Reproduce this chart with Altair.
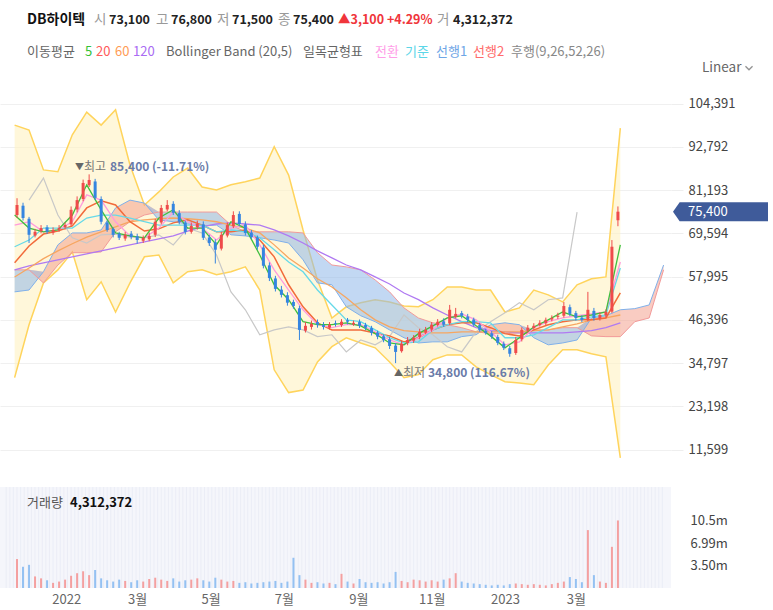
import altair as alt
import pandas as pd

FONT = "Noto Sans CJK KR"
RED = "#ef4b4b"
BLUE = "#3585e0"

# ---------- candles (thousand KRW), one candle every 5 calendar days from 2021-11-21 ----------
opens = [74.5, 77.0, 73.5, 69.0, 70.2, 71.2, 69.8, 70.6, 71.2, 72.0,
         76.0, 78.8, 82.5, 83.5, 78.8, 72.5, 70.8, 69.5, 68.2, 69.5,
         68.8, 67.6, 68.0, 69.2, 72.5, 76.0, 77.5, 75.0, 72.5, 70.0,
         71.2, 72.0, 68.5, 67.2, 65.5, 69.0, 71.5, 74.8, 72.0, 69.8,
         68.5, 65.8, 61.0, 57.5, 54.5, 53.0, 51.2, 49.5, 43.5, 44.5,
         45.8, 45.0, 44.3, 45.5, 45.0, 46.3, 45.2, 45.8, 45.0, 44.2,
         43.0, 42.0, 41.2, 39.5, 38.0, 40.2, 40.8, 41.8, 43.0, 43.8,
         45.0, 46.0, 45.5, 47.2, 48.2, 47.3, 46.5, 45.0, 43.5, 42.8,
         41.8, 40.0, 38.8, 37.5, 41.2, 43.5, 44.2, 45.0, 45.5, 46.5,
         47.2, 47.5, 49.8, 48.2, 47.0, 46.5, 48.8, 46.8, 47.6, 48.6,
         73.1]
highs = [79.0, 77.8, 74.0, 70.8, 71.8, 71.8, 71.2, 71.8, 72.5, 76.8,
         79.5, 84.0, 85.4, 84.2, 79.5, 73.0, 71.2, 70.0, 70.0, 70.2,
         69.5, 69.0, 69.8, 73.5, 77.2, 78.5, 78.2, 75.8, 73.0, 72.5,
         73.0, 72.8, 69.2, 68.0, 70.0, 72.5, 75.5, 75.5, 72.8, 70.5,
         69.0, 66.5, 61.8, 58.2, 55.5, 53.8, 51.8, 50.2, 45.8, 46.2,
         46.5, 45.8, 45.8, 46.2, 46.6, 46.9, 46.2, 46.5, 45.6, 44.8,
         43.5, 42.5, 41.8, 40.2, 40.8, 41.8, 42.3, 44.0, 44.5, 45.8,
         46.6, 46.8, 50.4, 49.6, 48.8, 48.0, 47.0, 45.6, 44.0, 43.4,
         42.4, 40.6, 39.4, 41.8, 44.4, 45.0, 45.5, 46.3, 47.0, 47.6,
         48.3, 51.2, 50.5, 48.8, 47.6, 53.9, 49.6, 48.4, 49.2, 67.8,
         76.8]
lows = [73.8, 73.0, 67.0, 68.5, 69.6, 69.4, 69.2, 70.0, 70.6, 71.4,
        75.2, 78.2, 82.0, 78.5, 72.0, 70.0, 68.5, 67.8, 67.6, 68.0,
        66.8, 67.0, 67.5, 68.6, 72.0, 75.5, 74.5, 72.0, 69.3, 69.5,
        70.6, 67.8, 66.2, 61.5, 65.0, 68.5, 71.0, 71.5, 69.0, 68.0,
        65.2, 60.2, 56.8, 54.0, 52.4, 50.2, 49.4, 41.0, 43.0, 43.8,
        44.3, 43.8, 43.8, 44.6, 44.5, 45.2, 44.8, 44.2, 43.6, 42.2,
        41.2, 40.4, 38.6, 34.8, 37.6, 39.6, 40.2, 41.2, 42.6, 43.2,
        44.6, 44.5, 45.0, 46.8, 46.8, 45.8, 44.6, 43.2, 42.4, 41.3,
        39.6, 38.3, 36.5, 37.0, 40.6, 43.0, 43.8, 44.6, 45.0, 46.0,
        46.6, 47.0, 47.4, 46.2, 45.8, 46.0, 46.2, 46.2, 47.0, 48.2,
        71.5]
closes = [77.2, 73.7, 69.2, 70.0, 71.0, 70.0, 70.5, 71.0, 71.8, 75.9,
          78.5, 83.1, 83.9, 79.1, 72.7, 70.5, 69.2, 68.4, 69.2, 68.6,
          67.8, 68.4, 68.9, 72.7, 76.4, 77.2, 75.1, 72.7, 70.0, 71.6,
          72.1, 68.4, 67.0, 65.2, 69.2, 71.8, 74.5, 72.1, 69.7, 68.6,
          66.0, 60.9, 57.6, 54.7, 53.1, 51.0, 50.1, 43.7, 44.8, 45.3,
          45.1, 44.5, 45.1, 45.3, 45.9, 45.9, 45.6, 44.8, 44.3, 42.9,
          41.9, 41.0, 39.4, 37.8, 40.0, 41.0, 41.6, 43.2, 43.7, 45.1,
          45.9, 45.1, 49.1, 48.0, 47.5, 46.4, 45.1, 43.7, 42.9, 41.9,
          40.2, 38.9, 37.3, 41.0, 43.7, 44.3, 44.8, 45.6, 46.4, 46.9,
          47.5, 50.1, 48.0, 46.9, 46.4, 49.1, 46.9, 47.7, 48.5, 66.0,
          75.4]
volumes_m = [4.5, 3.3, 3.6, 1.8, 1.5, 1.2, 0.8, 1.0, 1.3, 1.9,
             2.3, 2.6, 2.0, 2.8, 1.5, 1.2, 1.0, 1.3, 1.1, 0.9,
             1.2, 1.0, 1.4, 1.6, 1.3, 1.1, 1.5, 1.0, 1.2, 1.3,
             1.5, 1.2, 1.0, 1.6, 1.3, 1.0, 1.1, 0.8, 0.9, 0.7,
             0.8, 0.9, 1.0, 1.1, 0.8, 1.0, 4.7, 2.0, 1.3, 0.8,
             0.9, 0.7, 0.8, 0.6, 2.2, 1.0, 0.7, 1.4, 0.9, 0.8,
             0.9, 0.7, 0.9, 2.5, 1.1, 0.9, 1.3, 1.2, 1.0, 1.2,
             1.0, 1.3, 1.5, 2.3, 1.0, 0.8, 0.7, 0.6, 0.5, 0.4,
             0.5, 0.4, 0.6, 0.7, 0.6, 0.5, 0.6, 0.5, 0.4, 0.6,
             0.8, 1.0, 1.7, 1.4, 0.9, 9.0, 2.0, 1.0, 0.8, 6.4,
             10.5]

# ---------- indicator lines (thousand KRW), one point every 12 days from 2021-11-19 ----------
ma5 = [74.5, 71.0, 70.0, 70.5, 74.5, 82.6, 75.9, 69.7, 68.9, 68.4,
       73.7, 75.9, 71.0, 71.0, 66.5, 72.7, 71.0, 63.8, 55.8, 51.8,
       45.9, 45.1, 45.1, 45.6, 44.8, 42.7, 40.2, 39.7, 42.7, 44.8,
       46.9, 47.5, 44.8, 42.1, 38.9, 41.6, 44.5, 46.4, 48.5, 47.2,
       47.7, 48.5, 66.5]
ma20 = [61.7, 66.2, 69.4, 70.2, 71.6, 76.4, 78.3, 77.2, 72.7, 70.2,
        70.8, 72.4, 73.2, 71.8, 70.0, 70.0, 70.5, 67.8, 63.3, 55.8,
        49.9, 45.6, 43.7, 43.7, 43.7, 42.9, 42.1, 40.5, 41.6, 43.7,
        45.1, 45.6, 45.6, 44.3, 42.7, 42.1, 43.7, 45.1, 45.9, 46.4,
        46.4, 46.9, 53.6]
ma60 = [57.9, 60.3, 62.8, 64.9, 66.8, 68.6, 70.0, 71.3, 72.7, 73.2,
        73.5, 73.7, 73.5, 73.2, 72.7, 71.8, 71.0, 69.7, 66.5, 63.0,
        60.3, 57.4, 55.2, 52.3, 49.1, 46.4, 44.5, 43.5, 43.2, 42.9,
        42.9, 43.2, 43.2, 43.2, 43.2, 43.2, 43.5, 43.7, 44.5, 45.3,
        46.4, 46.9, 47.7]
ma120 = [59.8, 60.9, 61.7, 62.5, 63.3, 64.1, 64.9, 65.7, 66.5, 67.3,
         68.1, 68.9, 70.2, 71.3, 72.1, 72.4, 72.1, 71.8, 70.5, 68.9,
         67.0, 64.9, 63.0, 61.1, 59.8, 57.9, 56.0, 53.6, 51.8, 49.6,
         47.7, 45.9, 44.3, 43.5, 43.2, 42.9, 42.9, 42.9, 42.9, 43.2,
         43.5, 44.3, 45.6]
bb_upper = [98.6, 97.3, 86.6, 86.1, 96.0, 102.1, 98.6, 102.7, 87.9, 77.2,
            80.7, 84.7, 87.1, 82.0, 81.2, 82.6, 83.4, 84.4, 92.8, 85.2,
            70.5, 57.1, 46.9, 49.9, 51.0, 51.8, 51.2, 50.1, 49.9, 51.8,
            55.2, 55.2, 54.4, 54.4, 48.5, 49.6, 54.4, 53.1, 51.2, 55.8,
            57.4, 57.9, 97.8]
bb_lower = [30.9, 45.1, 56.3, 59.8, 64.6, 51.8, 56.6, 48.5, 56.3, 63.3,
            63.8, 56.3, 59.3, 59.8, 58.5, 59.3, 60.6, 54.4, 33.0, 26.9,
            27.6, 35.1, 39.2, 41.6, 40.2, 38.9, 35.1, 30.9, 31.7, 35.7,
            37.0, 37.0, 33.8, 31.7, 29.8, 29.5, 29.0, 34.3, 38.4, 38.4,
            37.3, 36.5, 9.4]
tenkan = [71.8, 72.7, 70.0, 70.5, 72.7, 79.9, 78.5, 72.7, 68.9, 68.4,
          71.0, 75.3, 72.7, 71.0, 67.8, 71.0, 71.8, 66.5, 59.8, 54.4,
          49.1, 45.1, 44.3, 45.1, 45.1, 43.2, 41.0, 39.7, 41.6, 43.7,
          46.9, 48.0, 46.4, 43.2, 39.7, 40.5, 44.3, 45.9, 46.9, 47.5,
          48.0, 48.5, 61.9]
kijun = [66.0, 67.8, 71.0, 71.0, 71.0, 73.7, 74.5, 74.5, 73.7, 72.7,
         71.8, 71.8, 71.8, 71.8, 70.0, 70.5, 70.0, 68.4, 65.2, 61.9,
         59.3, 54.4, 50.4, 46.4, 45.9, 43.7, 41.6, 40.2, 40.5, 43.7,
         45.1, 45.9, 45.9, 45.6, 41.6, 41.6, 42.4, 44.3, 46.4, 46.4,
         47.2, 47.7, 60.3]
span1 = [53.9, 54.4, 59.3, 66.5, 69.7, 69.7, 70.5, 76.4, 78.5, 77.7,
         73.2, 72.7, 72.1, 71.6, 71.8, 69.2, 68.9, 68.4, 67.8, 67.0,
         62.5, 56.3, 55.8, 49.9, 47.5, 45.9, 43.7, 41.6, 40.2, 40.5,
         40.5, 41.9, 42.4, 45.1, 45.6, 45.1, 41.6, 39.7, 40.2, 41.0,
         46.9, 47.5, 49.1, 49.4, 50.4, 61.1]
span2 = [59.8, 59.8, 56.3, 61.1, 64.4, 64.4, 64.6, 70.0, 72.7, 74.5,
         75.3, 75.3, 75.3, 75.3, 75.3, 71.8, 70.0, 70.0, 70.0, 70.0,
         69.7, 64.4, 61.1, 60.6, 59.8, 57.1, 53.9, 49.6, 46.9, 45.6,
         45.1, 44.3, 43.2, 42.7, 42.7, 42.9, 43.7, 43.7, 44.3, 44.3,
         42.1, 41.9, 41.9, 45.9, 46.9, 59.8]
chikou = [78.5, 84.4, 74.5, 68.4, 67.0, 69.2, 69.4, 68.6, 68.4, 69.2,
          66.5, 71.0, 69.7, 63.8, 53.9, 49.1, 42.4, 43.7, 44.5, 43.7,
          41.9, 42.4, 37.8, 41.0, 39.7, 41.9, 47.7, 44.3, 42.4, 39.2,
          37.8, 43.2, 45.9, 48.3, 51.0, 49.1, 51.8, 52.3, 75.3]

price_ticks = [11599, 23198, 34797, 46396, 57995, 69594, 81193, 92792, 104391]
vol_ticks = [3.5, 6.99, 10.49]
last_close = 75400

# ---------- tables ----------
K = 1000
candle_dates = pd.date_range("2021-11-21", periods=len(closes), freq="5D")
candles = pd.DataFrame({
    "date": candle_dates,
    "open": [v * K for v in opens], "high": [v * K for v in highs],
    "low": [v * K for v in lows], "close": [v * K for v in closes],
    "vol": volumes_m,
})
line_dates = pd.date_range("2021-11-19", periods=len(span1), freq="12D")
n = len(ma5)
lines = pd.DataFrame({
    "date": line_dates[:n],
    "ma5": [v * K for v in ma5], "ma20": [v * K for v in ma20],
    "ma60": [v * K for v in ma60], "ma120": [v * K for v in ma120],
    "bb_up": [v * K for v in bb_upper], "bb_lo": [v * K for v in bb_lower],
    "tenkan": [v * K for v in tenkan], "kijun": [v * K for v in kijun],
})
cloud = pd.DataFrame({"date": line_dates, "s1": [v * K for v in span1], "s2": [v * K for v in span2]})
chik = pd.DataFrame({"date": line_dates[1:1 + len(chikou)], "v": [v * K for v in chikou]})
one = pd.DataFrame({"k": [0]})
stripes = pd.DataFrame({"date": pd.date_range("2021-11-12", "2023-05-14", freq="3D")})

xscale = alt.Scale(domain=[alt.DateTime(year=2021, month=11, date=11),
                           alt.DateTime(year=2023, month=5, date=15)])
yscale = alt.Scale(domain=[4000, 110700], nice=False, zero=False)
X = alt.X("date:T", scale=xscale, axis=None)

yaxis = alt.Axis(values=price_ticks, format=",d", orient="right", title=None, domain=False,
                 tickColor="#eeeeee", tickSize=12, labelPadding=5, gridColor="#f0f0f0",
                 labelFontSize=13, labelColor="#444444", labelFont=FONT)


def Y(f):
    return alt.Y(f, type="quantitative", scale=yscale, axis=yaxis)


def line(df, f, color, w=1.3, op=1.0):
    return alt.Chart(df).mark_line(color=color, strokeWidth=w, opacity=op).encode(x=X, y=Y(f))


def txt(s, x, y, color, size=13, bold=False):
    return alt.Chart(one).mark_text(
        text=s, align="left", baseline="middle", font=FONT, fontSize=size,
        fontWeight="bold" if bold else "normal", color=color
    ).encode(x=alt.value(x), y=alt.value(y))


updown = alt.condition("datum.close >= datum.open", alt.value(RED), alt.value(BLUE))

bb_area = alt.Chart(lines).mark_area(color="#fff2c2", opacity=0.6).encode(
    x=X, y=Y("bb_up"), y2="bb_lo")
cloud_base = alt.Chart(cloud).transform_calculate(hi="max(datum.s1, datum.s2)")
cloud_red = cloud_base.mark_area(color="#f39a86", opacity=0.5).encode(x=X, y=Y("hi"), y2="s2")
cloud_blue = cloud_base.mark_area(color="#8fb8ea", opacity=0.55).encode(x=X, y=Y("hi"), y2="s1")
wick = alt.Chart(candles).mark_rule(strokeWidth=1).encode(x=X, y=Y("low"), y2="high", color=updown)
body = alt.Chart(candles).mark_bar(width=3).encode(x=X, y=Y("open"), y2="close", color=updown)

tag_y = alt.YDatum(last_close, type="quantitative", scale=yscale, axis=yaxis)
tag = alt.Chart(one).mark_point(
    shape="M0,0L0.7,-1L10,-1L10,1L0.7,1Z", size=361, filled=True, opacity=1, color="#3f5b9a"
).encode(x=alt.value(673), y=tag_y)
tag_text = alt.Chart(one).mark_text(
    text="75,400", align="left", baseline="middle", font=FONT, fontSize=13, color="white"
).encode(x=alt.value(688), y=tag_y)

main = alt.layer(
    bb_area,
    line(lines, "bb_up", "#ffd45c", 1.5), line(lines, "bb_lo", "#ffd45c", 1.5),
    cloud_red, cloud_blue,
    line(cloud, "s1", "#7fb0ea", 1), line(cloud, "s2", "#f29a9a", 1),
    line(chik, "v", "#c8c8c8", 1.2),
    line(lines, "ma120", "#b07af2"), line(lines, "ma60", "#f7a660"),
    line(lines, "ma20", "#f26b3b", 1.5), line(lines, "kijun", "#66d9e8"),
    line(lines, "tenkan", "#ff9bdd"), line(lines, "ma5", "#3fbf3f"),
    wick, body,
    txt("▼", 75, 87, "#666666", 9), txt("최고", 84, 87, "#777777", 12),
    txt("85,400 (-11.71%)", 110, 87, "#6a7ba8", 12, True),
    txt("▲", 394, 293, "#666666", 9), txt("최저", 403, 293, "#777777", 12),
    txt("34,800 (116.67%)", 428, 293, "#6a7ba8", 12, True),
    tag, tag_text,
).properties(width=671, height=398)

# ---------- header ----------
header = alt.layer(
    txt("DB하이텍", 27, 20, "#111111", 14, True),
    txt("시", 94, 20, "#999999", 13.5), txt("73,100", 109, 20, "#222222", 12.5, True),
    txt("고", 156, 20, "#999999", 13.5), txt("76,800", 171, 20, "#222222", 12.5, True),
    txt("저", 217, 20, "#999999", 13.5), txt("71,500", 232, 20, "#222222", 12.5, True),
    txt("종", 278, 20, "#999999", 13.5), txt("75,400", 293, 20, "#222222", 12.5, True),
    txt("▲3,100 +4.29%", 338, 20, "#f0353b", 12.5, True),
    txt("거", 437, 20, "#999999", 13.5), txt("4,312,372", 453, 20, "#222222", 12.5, True),
    txt("이동평균", 27, 52, "#666666", 13),
    txt("5", 85, 52, "#34c134", 13), txt("20", 96, 52, "#ff5a5a", 13),
    txt("60", 115, 52, "#ff9c55", 13), txt("120", 133, 52, "#a96bf3", 13),
    txt("Bollinger Band (20,5)", 166, 52, "#666666", 13),
    txt("일목균형표", 303, 52, "#666666", 13),
    txt("전환", 375, 52, "#ff9ee8", 13), txt("기준", 405, 52, "#5cd6e8", 13),
    txt("선행1", 436, 52, "#6ea6e6", 13), txt("선행2", 473, 52, "#ff6b6b", 13),
    txt("후행(9,26,52,26)", 511, 52, "#888888", 13),
    txt("Linear", 702, 68, "#666666", 13.5),
    alt.Chart(one).mark_point(shape="M-1,-0.5L0,0.5L1,-0.5", filled=False, size=50,
                              strokeWidth=1.3, color="#666666").encode(x=alt.value(749), y=alt.value(68)),
).properties(width=671, height=71)

# ---------- volume ----------
x_vals = [alt.DateTime(year=2022, month=m, date=1) for m in (1, 3, 5, 7, 9, 11)] + \
         [alt.DateTime(year=2023, month=1, date=1), alt.DateTime(year=2023, month=3, date=1)]
xaxis = alt.Axis(values=x_vals, title=None, grid=False, ticks=False, domain=False,
                 labelExpr="month(datum.value) == 0 ? timeFormat(datum.value, '%Y') : (month(datum.value) + 1) + '월'",
                 labelFontSize=13, labelColor="#666666", labelPadding=5, labelFont=FONT)
vaxis = alt.Axis(values=vol_ticks, labelExpr="format(datum.value, '.3g') + 'm'", orient="right",
                 title=None, grid=False, ticks=False, domain=False, labelFontSize=13,
                 labelColor="#444444", labelPadding=19, labelFont=FONT)
VX = alt.X("date:T", scale=xscale, axis=xaxis)
vbg = alt.Chart(one).mark_rect(color="#f5f6fb").encode(
    x=alt.value(0), x2=alt.value(671), y=alt.value(0), y2=alt.value(101))
vstripes = alt.Chart(stripes).mark_rule(color="#e8ebf5", strokeWidth=0.8).encode(x=VX)
vbars = alt.Chart(candles).mark_bar(width=2).encode(
    x=VX,
    y=alt.Y("vol:Q", scale=alt.Scale(domain=[0, 15.7], nice=False), axis=vaxis),
    color=alt.condition("datum.close >= datum.open", alt.value("#f4a0a0"), alt.value("#94c1f2")),
)
vol = alt.layer(
    vbg, vstripes, vbars,
    txt("거래량", 27, 16, "#555555", 13), txt("4,312,372", 70, 16, "#111111", 13, True),
).properties(width=671, height=101)

chart = alt.vconcat(header, main, vol, spacing=9, bounds="flush").properties(
    padding={"left": 0, "top": 0, "right": 0, "bottom": 0}
).configure(font=FONT).configure_view(stroke=None)

chart.save("out.html", embed_options={"renderer": "svg", "actions": False})
